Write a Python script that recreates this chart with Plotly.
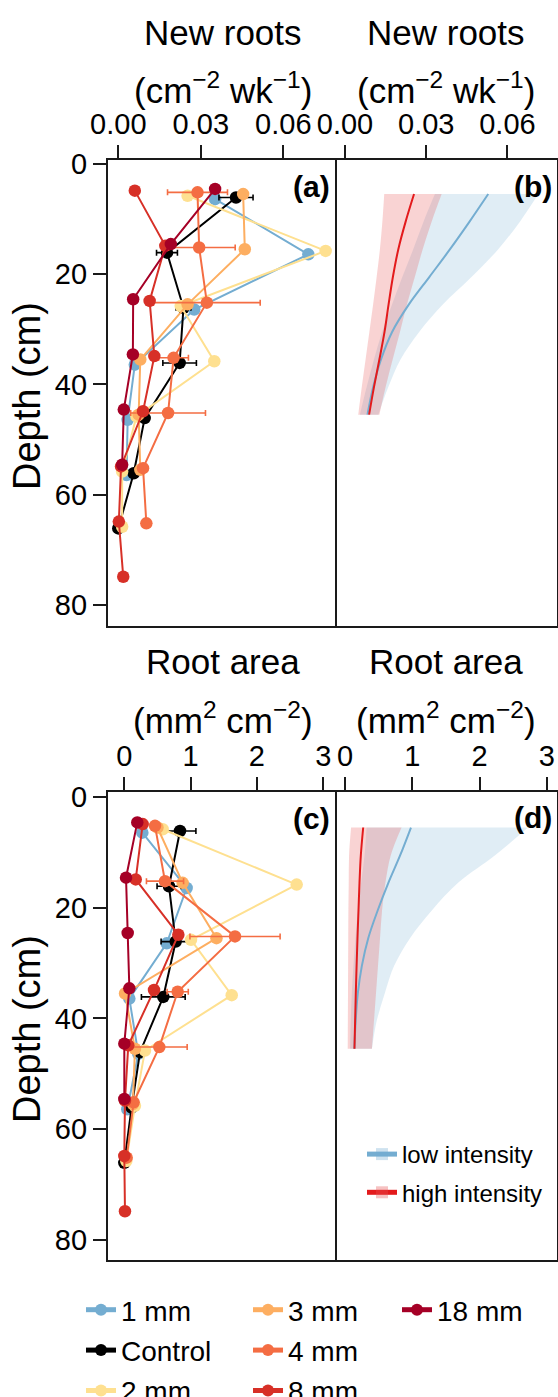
import plotly.graph_objects as go

W, H = 558, 1397
FONT = "Liberation Sans, Arial, Helvetica, sans-serif"

# ---------------------------------------------------------------- data
depth = [5.5, 15.5, 25.5, 35.5, 45.5, 55.5, 65.5, 75.5]
treatments = ["1 mm", "Control", "2 mm", "3 mm", "4 mm", "8 mm", "18 mm"]
colors = ["#74add1", "#000000", "#fee090", "#fdae61", "#f46d43", "#d73027", "#a50026"]

# New roots (cm^-2 wk^-1), one value per depth layer
nr_1mm = [0.0352, 0.0691, 0.0276, 0.0060, 0.0034, 0.0030, None, None]
nr_control = [0.0428, 0.0177, 0.0237, 0.0223, 0.0096, 0.0056, 0.0000, None]
nr_2mm = [0.0252, 0.0754, 0.0227, 0.0349, 0.0066, 0.0014, 0.0014, None]
nr_3mm = [0.0454, 0.0460, 0.0252, 0.0080, 0.0074, 0.0080, None, None]
nr_4mm = [0.0288, 0.0294, 0.0322, 0.0201, 0.0181, 0.0090, 0.0102, None]
nr_8mm = [0.0060, 0.0171, 0.0114, 0.0131, 0.0090, 0.0010, 0.0002, 0.0018]
nr_18mm = [0.0352, 0.0191, 0.0054, 0.0053, 0.0020, 0.0014, None, None]

# standard errors of new roots
nr_se_control = [0.0062, 0.0038, 0.0027, 0.0061, 0, 0, 0, None]
nr_se_4mm = [0.0109, 0.0131, 0.0194, 0.0054, 0.0136, 0, 0, None]

# Root area (mm^2 cm^-2)
ra_1mm = [0.272, 0.94, 0.64, 0.076, 0.211, 0.045, None, None]
ra_control = [0.840, 0.674, 0.775, 0.588, 0.237, 0.11, 0.0, None]
ra_2mm = [0.579, 2.60, 1.006, 1.62, 0.312, 0.16, 0.03, None]
ra_3mm = [0.50, 0.88, 1.39, 0.011, 0.16, 0.13, None, None]
ra_4mm = [0.463, 0.614, 1.67, 0.805, 0.528, 0.14, 0.036, None]
ra_8mm = [0.277, 0.172, 0.815, 0.448, 0.06, 0.01, 0.0, 0.01]
ra_18mm = [0.196, 0.026, 0.051, 0.076, 0.0, 0.0, None, None]

ra_se_control = [0.24, 0.18, 0.22, 0.33, 0, 0, 0, None]
ra_se_4mm = [0, 0.28, 0.68, 0.16, 0.42, 0, 0, None]

# Fitted depth profiles by disturbance intensity
fit_depth = [5.5, 10.5, 15.5, 20.5, 25.5, 30.5, 35.5, 40.5, 45.5]

nr_low_fit = [0.0529, 0.0460, 0.0388, 0.0312, 0.0236, 0.0174, 0.0133, 0.0104, 0.0083]
nr_low_hi = [0.0714, 0.0646, 0.0566, 0.0468, 0.0362, 0.0274, 0.0205, 0.0160, 0.0123]
nr_low_lo = [0.0332, 0.0290, 0.0252, 0.0212, 0.0174, 0.0137, 0.0107, 0.0080, 0.0055]
nr_high_fit = [0.0255, 0.0224, 0.0197, 0.0177, 0.0161, 0.0146, 0.0127, 0.0107, 0.0089]
nr_high_hi = [0.0357, 0.0320, 0.0287, 0.0258, 0.0229, 0.0203, 0.0176, 0.0150, 0.0127]
nr_high_lo = [0.0145, 0.0138, 0.0129, 0.0117, 0.0104, 0.0090, 0.0076, 0.0062, 0.0049]

ra_low_fit = [0.98, 0.82, 0.644, 0.485, 0.345, 0.250, 0.190, 0.158, 0.139]
ra_low_hi = [2.72, 2.23, 1.68, 1.29, 0.966, 0.730, 0.590, 0.47, 0.40]
ra_low_lo = [0.32, 0.29, 0.24, 0.19, 0.155, 0.125, 0.10, 0.085, 0.075]
ra_high_fit = [0.27, 0.235, 0.215, 0.20, 0.185, 0.172, 0.16, 0.15, 0.14]
ra_high_hi = [0.84, 0.68, 0.60, 0.55, 0.52, 0.49, 0.46, 0.43, 0.40]
ra_high_lo = [0.09, 0.06, 0.055, 0.05, 0.048, 0.046, 0.044, 0.042, 0.04]

intensities = ["low intensity", "high intensity"]
int_line = ["#74add1", "#e31a1c"]
int_fill = ["rgba(116,173,209,0.22)", "rgba(230,80,80,0.25)"]
int_key = ["rgba(116,173,209,0.35)", "rgba(230,80,80,0.35)"]

new_roots = [nr_1mm, nr_control, nr_2mm, nr_3mm, nr_4mm, nr_8mm, nr_18mm]
root_area = [ra_1mm, ra_control, ra_2mm, ra_3mm, ra_4mm, ra_8mm, ra_18mm]
nr_se = {"Control": nr_se_control, "4 mm": nr_se_4mm}
ra_se = {"Control": ra_se_control, "4 mm": ra_se_4mm}

# ---------------------------------------------------------------- layout helpers
def px_x(p):
    return p / W


def px_y(p):
    return 1 - p / H


X_LEFT, X_MID, X_RIGHT = 107.8, 335.0, 557.0
TOP_PANEL = (160.3, 626.0)
BOT_PANEL = (792.3, 1259.5)

# vertical dodge of the treatment groups within a depth layer
DODGE = 0.31
dodge_rank = {t: 3 - i for i, t in enumerate(treatments)}

legend_of = {"1 mm": "legend", "Control": "legend", "2 mm": "legend",
             "3 mm": "legend2", "4 mm": "legend2", "8 mm": "legend2",
             "18 mm": "legend3"}

fig = go.Figure()


def add_treatments(values, se, xa, ya, show):
    for t, c, vals in zip(treatments, colors, values):
        yy = [d + dodge_rank[t] * DODGE for d in depth]
        err = None
        if t in se:
            err = dict(type="data", array=se[t], visible=True, color=c,
                       thickness=1.6, width=3)
        fig.add_trace(go.Scatter(
            x=vals, y=yy, mode="lines+markers", name=t,
            line=dict(color=c, width=2),
            marker=dict(color=c, size=12.5),
            error_x=err, xaxis=xa, yaxis=ya,
            legend=legend_of[t], legendgroup=t, showlegend=show,
        ))


def add_fits(fits, xa, ya, show):
    # ribbons first
    for (fit, lo, hi), fc in zip(fits, int_fill):
        fig.add_trace(go.Scatter(x=lo, y=fit_depth, mode="lines",
                                 line=dict(width=0, shape="spline"),
                                 hoverinfo="skip", showlegend=False,
                                 xaxis=xa, yaxis=ya))
        fig.add_trace(go.Scatter(x=hi, y=fit_depth, mode="lines",
                                 line=dict(width=0, shape="spline"),
                                 fill="tonexty", fillcolor=fc,
                                 hoverinfo="skip", showlegend=False,
                                 xaxis=xa, yaxis=ya))
    # fitted lines on top
    for (fit, lo, hi), name, lc, kc in zip(fits, intensities, int_line, int_key):
        fig.add_trace(go.Scatter(
            x=fit, y=fit_depth, mode="lines+markers", name=name,
            line=dict(color=lc, width=2, shape="spline"),
            marker=dict(symbol="square", size=0.1, color=kc, line=dict(width=0)),
            legend="legend4", legendgroup=name, showlegend=show,
            xaxis=xa, yaxis=ya))


add_treatments(new_roots, nr_se, "x", "y", True)
add_fits([(nr_low_fit, nr_low_lo, nr_low_hi), (nr_high_fit, nr_high_lo, nr_high_hi)],
         "x2", "y2", False)
add_treatments(root_area, ra_se, "x3", "y3", False)
add_fits([(ra_low_fit, ra_low_lo, ra_low_hi), (ra_high_fit, ra_high_lo, ra_high_hi)],
         "x4", "y4", True)

# ---------------------------------------------------------------- axes
AX_COLOR = "#1a1a1a"
LINE = dict(showline=True, linecolor=AX_COLOR, linewidth=1.8,
            showgrid=False, zeroline=False)
TICKS = dict(ticks="outside", ticklen=13, tickwidth=1.8, tickcolor=AX_COLOR,
             tickfont=dict(size=29, color="black", family=FONT))


def xaxis(dom, rng, vals, text, anchor):
    return dict(domain=dom, range=rng, side="top", anchor=anchor, mirror=True,
                tickvals=vals, ticktext=text, **LINE, **TICKS)


def yaxis_left(dom, rng, anchor):
    # left panel: ticks on the left, frame line mirrored to the shared edge
    return dict(domain=dom, range=rng, anchor=anchor, mirror=True,
                tickvals=[0, 20, 40, 60, 80], **LINE, **TICKS)


def yaxis_right(dom, rng, anchor):
    # right panel: only its outer edge, the shared edge comes from the left panel
    return dict(domain=dom, range=rng, anchor=anchor, side="right", mirror=False,
                showticklabels=False, ticks="", **LINE)


dom_a = [px_x(X_LEFT), px_x(X_MID)]
dom_b = [px_x(X_MID), px_x(X_RIGHT)]
dom_top = [px_y(TOP_PANEL[1]), px_y(TOP_PANEL[0])]
dom_bot = [px_y(BOT_PANEL[1]), px_y(BOT_PANEL[0])]

nr_ticks = [0, 0.03, 0.06]
nr_text = ["0.00", "0.03", "0.06"]
ra_ticks = [0, 1, 2, 3]
ra_text = ["0", "1", "2", "3"]

fig.update_layout(
    xaxis=xaxis(dom_a, [-0.00382, 0.0788], nr_ticks, nr_text, "y"),
    xaxis2=xaxis(dom_b, [-0.00369, 0.0783], nr_ticks, nr_text, "y2"),
    xaxis3=xaxis(dom_a, [-0.249, 3.178], ra_ticks, ra_text, "y3"),
    xaxis4=xaxis(dom_b, [-0.149, 3.15], ra_ticks, ra_text, "y4"),
    yaxis=yaxis_left(dom_top, [83.81, -0.62], "x"),
    yaxis2=yaxis_right(dom_top, [83.81, -0.62], "x2"),
    yaxis3=yaxis_left(dom_bot, [83.6, -0.87], "x3"),
    yaxis4=yaxis_right(dom_bot, [83.6, -0.87], "x4"),
)

# ---------------------------------------------------------------- text
ann = []
cx_a = px_x((X_LEFT + X_MID) / 2 + 2)
cx_b = px_x((X_MID + X_RIGHT) / 2)
for cx in (cx_a, cx_b):
    ann.append(dict(x=cx, y=px_y(32), text="New roots", font=dict(size=35)))
    ann.append(dict(x=cx, y=px_y(88), text="(cm<sup>−2</sup> wk<sup>−1</sup>)",
                    font=dict(size=35)))
    ann.append(dict(x=cx, y=px_y(662), text="Root area", font=dict(size=35)))
    ann.append(dict(x=cx, y=px_y(718), text="(mm<sup>2</sup> cm<sup>−2</sup>)",
                    font=dict(size=35)))
for yc in (396, 1029):
    ann.append(dict(x=px_x(27), y=px_y(yc), text="Depth (cm)", textangle=-90,
                    font=dict(size=38)))
for lab, xr, yc in (("(a)", 332, 186), ("(b)", 554, 187), ("(c)", 332, 818),
                    ("(d)", 554, 817)):
    ann.append(dict(x=px_x(xr), y=px_y(yc), text=f"<b>{lab}</b>", xanchor="right",
                    font=dict(size=30)))
for a in ann:
    a.setdefault("xanchor", "center")
    a.update(xref="paper", yref="paper", yanchor="middle", showarrow=False)
    a["font"].update(family=FONT, color="black")

LEG = dict(bgcolor="rgba(0,0,0,0)", borderwidth=0, orientation="v",
           xanchor="left", yanchor="top", tracegroupgap=1, itemsizing="constant",
           font=dict(size=28, family=FONT, color="black"))

fig.update_layout(
    width=W, height=H,
    margin=dict(l=0, r=0, t=0, b=0, autoexpand=False),
    paper_bgcolor="white", plot_bgcolor="white",
    font=dict(family=FONT, color="black"),
    annotations=ann,
    legend=dict(x=px_x(81), y=px_y(1285), **LEG),
    legend2=dict(x=px_x(248), y=px_y(1285), **LEG),
    legend3=dict(x=px_x(397), y=px_y(1285), **LEG),
    legend4=dict(x=px_x(362), y=px_y(1132),
                 **{**LEG, "tracegroupgap": 4,
                    "font": dict(size=24, family=FONT, color="black")}),
)

fig.write_html("out.html")
